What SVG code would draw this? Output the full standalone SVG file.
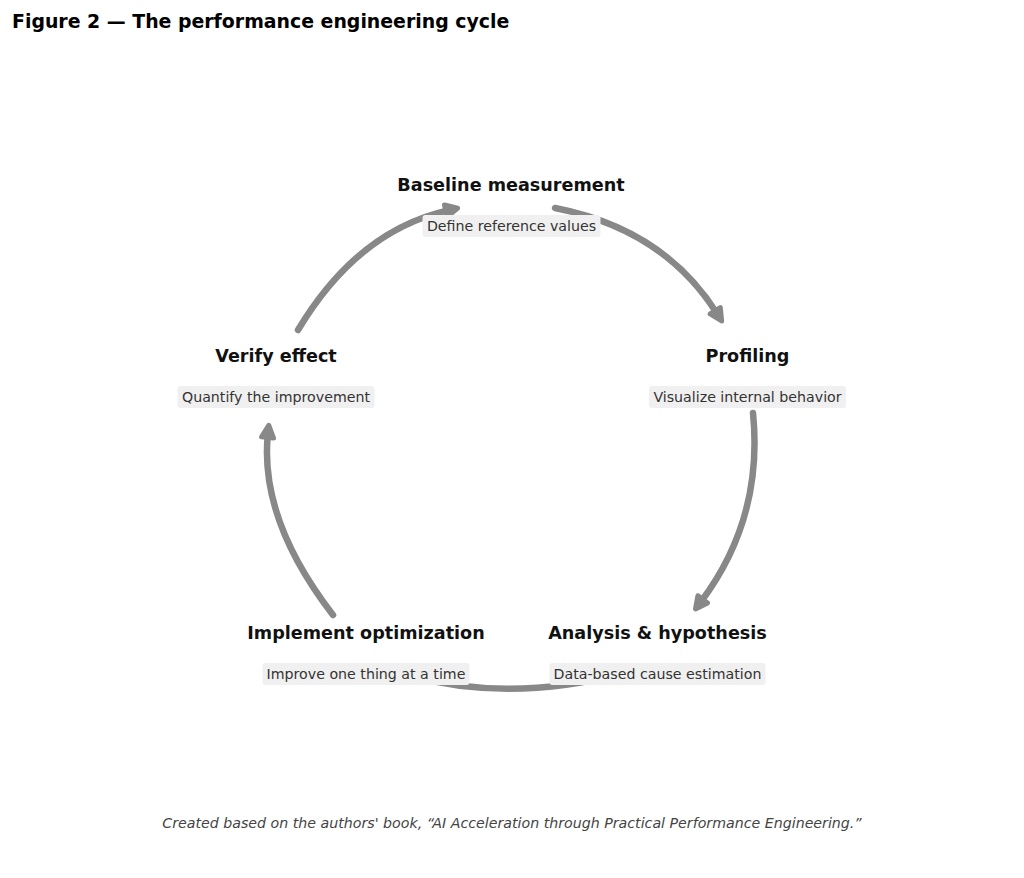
<svg xmlns="http://www.w3.org/2000/svg" width="1024" height="878" viewBox="0 0 1024 878">
  <style>
    .fig-title { font-family: "DejaVu Sans", "Liberation Sans", sans-serif; font-weight: bold; font-size: 18.9px; fill: #000000; }
    .node-title { font-family: "DejaVu Sans", "Liberation Sans", sans-serif; font-weight: bold; font-size: 17.6px; fill: #111111; text-anchor: middle; }
    .node-sub { font-family: "DejaVu Sans", "Liberation Sans", sans-serif; font-size: 14.2px; fill: #333333; text-anchor: middle; }
    .sub-box { fill: #f0f0f0; stroke: none; }
    .arc { fill: none; stroke: #888888; stroke-width: 6.5; stroke-linecap: round; marker-end: url(#head); }
    .footer { font-family: "DejaVu Sans", "Liberation Sans", sans-serif; font-style: italic; font-size: 14.2px; fill: #444444; text-anchor: middle; }
  </style>
  <defs>
    <marker id="head" markerUnits="userSpaceOnUse" markerWidth="30" markerHeight="30" refX="3.5" refY="0" orient="auto" overflow="visible">
      <path d="M0,-6 L12,0 L0,6 Z" fill="#888888" stroke="#888888" stroke-width="5" stroke-linejoin="round"/>
    </marker>
  </defs>
  <rect x="0" y="0" width="1024" height="878" fill="#ffffff"/>
  <text class="fig-title" x="12" y="28">Figure 2 — The performance engineering cycle</text>

  <g id="connectors">
    <path class="arc" d="M555,208 Q663.9,229.1 717.1,313.7"/>
    <path class="arc" d="M753,413 Q763.6,518.6 700.6,602.2"/>
    <path class="arc" d="M626,672.3 Q511,703.7 406.6,675.2"/>
    <path class="arc" d="M333,615 Q259,519 267.9,433.9"/>
    <path class="arc" d="M298,330 Q358,230 449.2,210.1"/>
  </g>

  <g id="node-baseline">
    <text class="node-title" x="511" y="191">Baseline measurement</text>
    <rect class="sub-box" x="422.5" y="215" width="178" height="22" rx="3"/>
    <text class="node-sub" x="511.5" y="230.5">Define reference values</text>
  </g>
  <g id="node-profiling">
    <text class="node-title" x="747.5" y="362">Profiling</text>
    <rect class="sub-box" x="649" y="386" width="197" height="22" rx="3"/>
    <text class="node-sub" x="747.5" y="401.5">Visualize internal behavior</text>
  </g>
  <g id="node-analysis">
    <text class="node-title" x="657.5" y="639">Analysis &amp; hypothesis</text>
    <rect class="sub-box" x="549.5" y="663" width="216" height="22" rx="3"/>
    <text class="node-sub" x="657.5" y="678.5">Data-based cause estimation</text>
  </g>
  <g id="node-implement">
    <text class="node-title" x="366" y="639">Implement optimization</text>
    <rect class="sub-box" x="262.5" y="663" width="207" height="22" rx="3"/>
    <text class="node-sub" x="366" y="678.5">Improve one thing at a time</text>
  </g>
  <g id="node-verify">
    <text class="node-title" x="276" y="362">Verify effect</text>
    <rect class="sub-box" x="177.5" y="386" width="197" height="22" rx="3"/>
    <text class="node-sub" x="276" y="401.5">Quantify the improvement</text>
  </g>

  <text class="footer" x="512" y="828">Created based on the authors' book, “AI Acceleration through Practical Performance Engineering.”</text>
</svg>
